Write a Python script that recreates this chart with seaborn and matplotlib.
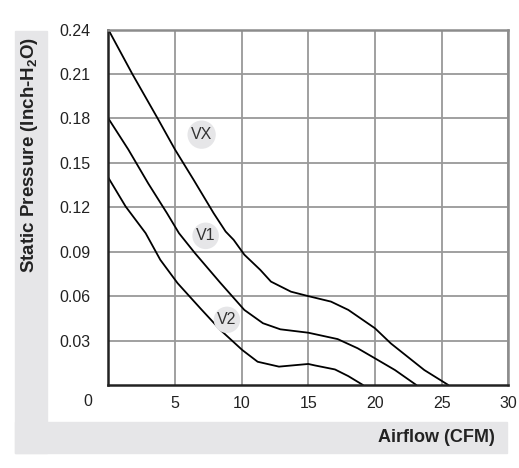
import pandas as pd
import matplotlib
matplotlib.use("Agg")
import matplotlib.pyplot as plt
import seaborn as sns
from matplotlib.patches import Rectangle

# curvas (CFM, Inch-H2O)
vx_x = [0, 1.8, 3.7, 5.0, 6.4, 7.9, 8.8, 9.4, 10.2, 11.4, 12.2, 13.7, 15.0, 16.7, 18.0, 19.0, 20.0, 21.2, 23.7, 25.5]
vx_y = [0.24, 0.21, 0.18, 0.159, 0.1385, 0.116, 0.1036, 0.098, 0.088, 0.0777, 0.0698, 0.063, 0.060, 0.0563, 0.0507, 0.0445, 0.0383, 0.028, 0.0101, 0.0]

v1_x = [0, 1.5, 3.0, 4.4, 5.3, 6.5, 8.4, 10.2, 11.6, 12.9, 15.0, 17.2, 18.7, 20.0, 21.5, 23.1]
v1_y = [0.18, 0.159, 0.136, 0.116, 0.1025, 0.089, 0.069, 0.0507, 0.0417, 0.0376, 0.0353, 0.031, 0.0248, 0.018, 0.0101, 0.0]

v2_x = [0, 1.3, 2.8, 3.9, 5.2, 6.9, 8.4, 10.05, 11.2, 12.8, 15.0, 15.5, 17.0, 18.0, 19.1]
v2_y = [0.14, 0.1205, 0.1025, 0.0845, 0.0687, 0.0518, 0.0372, 0.0236, 0.0157, 0.0124, 0.0142, 0.0132, 0.0105, 0.006, 0.0]

# etiquetas de las curvas y su posicion
etiquetas = ["VX", "V1", "V2"]
etiqueta_x = [7.0, 7.3, 8.9]
etiqueta_y = [0.169, 0.1007, 0.044]

x_ticks = [5, 10, 15, 20, 25, 30]
y_ticks = [0.03, 0.06, 0.09, 0.12, 0.15, 0.18, 0.21, 0.24]

df = pd.concat([
    pd.DataFrame({"CFM": vx_x, "P": vx_y, "serie": "VX"}),
    pd.DataFrame({"CFM": v1_x, "P": v1_y, "serie": "V1"}),
    pd.DataFrame({"CFM": v2_x, "P": v2_y, "serie": "V2"}),
])

sns.set_style("white")
plt.rcParams["font.family"] = ["Liberation Sans", "DejaVu Sans"]
plt.rcParams["mathtext.fontset"] = "custom"
plt.rcParams["mathtext.rm"] = "Liberation Sans"
plt.rcParams["mathtext.bf"] = "Liberation Sans:bold"
plt.rcParams["mathtext.default"] = "bf"

fig = plt.figure(figsize=(5.19, 4.68), dpi=100)
gris = "#e6e6e8"
# bandas grises de fondo (forma de L)
fig.patches.append(Rectangle((15 / 519, 1 - 453 / 468), 31.7 / 519, 422 / 468,
                             transform=fig.transFigure, color=gris, zorder=0))
fig.patches.append(Rectangle((15 / 519, 1 - 453 / 468), 492 / 519, 31 / 468,
                             transform=fig.transFigure, color=gris, zorder=0))

ax = fig.add_axes([108.3 / 519, 83 / 468, 400 / 519, 355.5 / 468])
ax.set_facecolor("white")

for s in etiquetas:
    sns.lineplot(data=df[df["serie"] == s], x="CFM", y="P", sort=False,
                 color="black", linewidth=1.3, ax=ax, legend=False)

ax.set_xlim(0, 30)
ax.set_ylim(0, 0.24)
ax.set_xticks(x_ticks)
ax.set_yticks(y_ticks)
ax.set_xticklabels([str(t) for t in x_ticks])
ax.set_yticklabels([f"{t:.2f}" for t in y_ticks])
ax.grid(True, color="#999999", linewidth=1.3)
ax.tick_params(direction="in", length=6, width=1.3, color="#222222",
               labelsize=11.5, colors="#222222")
ax.tick_params(axis="y", pad=13)
ax.tick_params(axis="x", pad=8)
ax.set_xlabel("")
ax.set_ylabel("")

for lado in ["left", "bottom"]:
    ax.spines[lado].set_color("#222222")
    ax.spines[lado].set_linewidth(1.8)
for lado in ["top", "right"]:
    ax.spines[lado].set_color("#8c8c8c")
    ax.spines[lado].set_linewidth(1.8)
    ax.spines[lado].set_visible(True)

# origen compartido
fig.text(88 / 519, 1 - 401 / 468, "0", ha="center", va="center",
         fontsize=11.5, color="#222222")

for t, x, y in zip(etiquetas, etiqueta_x, etiqueta_y):
    ax.text(x, y, t, ha="center", va="center", fontsize=11.5, color="#333333",
            bbox=dict(boxstyle="circle,pad=0.22", facecolor=gris, edgecolor="none"))

fig.text(30 / 519, 1 - 37 / 468, r"Static Pressure (Inch-H$_2$O)", rotation=90,
         ha="center", va="top", fontsize=13.5, fontweight="bold", color="#222222")
fig.text(495 / 519, 1 - 438 / 468, "Airflow (CFM)", ha="right", va="center",
         fontsize=13, fontweight="bold", color="#222222")

fig.savefig("out.png", dpi=100)
